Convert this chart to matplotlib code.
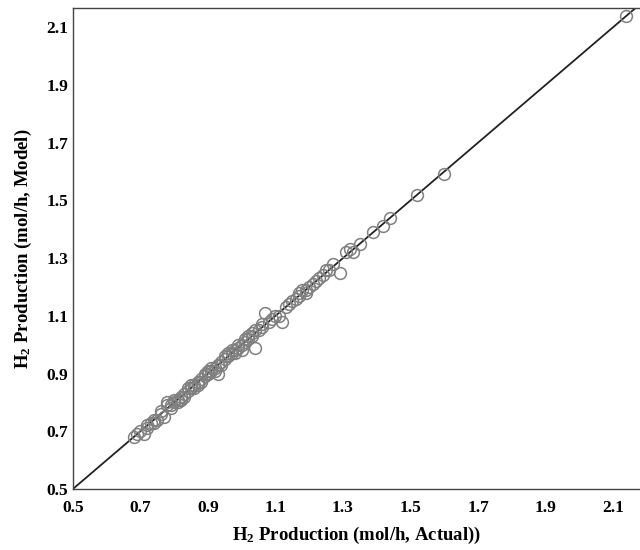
import matplotlib
matplotlib.use("Agg")
import matplotlib.pyplot as plt

actual = [0.68, 0.70, 0.71, 0.72, 0.73, 0.74, 0.75, 0.76, 0.77, 0.78, 0.79, 0.79, 0.80, 0.81,
          0.82, 0.82, 0.83, 0.84, 0.85, 0.85, 0.86, 0.87, 0.87, 0.88, 0.89, 0.90, 0.90, 0.91,
          0.92, 0.93, 0.93, 0.94, 0.95, 0.96, 0.97, 0.97, 0.98, 0.99, 1.00, 1.00, 1.01, 1.02,
          1.02, 1.03, 1.04, 1.05, 1.06, 1.07, 1.08, 1.10, 1.12, 1.13, 1.14, 1.16, 1.17, 1.18,
          1.19, 1.20, 1.21, 1.22, 1.23, 1.25, 1.26, 1.27, 1.29, 1.31, 1.33, 1.35, 1.39, 1.42,
          1.44, 1.52, 1.60, 2.14,
          0.69, 0.72, 0.74, 0.76, 0.78, 0.80, 0.81, 0.83, 0.84, 0.86, 0.88, 0.89, 0.91, 0.92,
          0.94, 0.95, 0.96, 0.98, 0.99, 1.01, 1.03, 1.04, 1.06, 1.09, 1.11, 1.15, 1.17, 1.19,
          1.24, 1.32]
model = [0.68, 0.70, 0.69, 0.72, 0.73, 0.74, 0.74, 0.76, 0.75, 0.80, 0.78, 0.79, 0.80, 0.81,
         0.82, 0.81, 0.83, 0.84, 0.85, 0.86, 0.86, 0.87, 0.86, 0.88, 0.89, 0.90, 0.91, 0.91,
         0.92, 0.90, 0.93, 0.94, 0.95, 0.96, 0.97, 0.98, 0.98, 0.99, 1.00, 0.98, 1.02, 1.02,
         1.03, 1.03, 0.99, 1.05, 1.06, 1.11, 1.08, 1.10, 1.08, 1.13, 1.14, 1.16, 1.17, 1.19,
         1.19, 1.20, 1.21, 1.22, 1.23, 1.26, 1.26, 1.28, 1.25, 1.32, 1.32, 1.35, 1.39, 1.41,
         1.44, 1.52, 1.59, 2.14,
         0.69, 0.71, 0.73, 0.77, 0.79, 0.81, 0.80, 0.82, 0.85, 0.85, 0.87, 0.90, 0.92, 0.91,
         0.93, 0.96, 0.97, 0.97, 1.00, 1.01, 1.04, 1.05, 1.07, 1.09, 1.10, 1.15, 1.18, 1.18,
         1.24, 1.33]
ticks = [0.5, 0.7, 0.9, 1.1, 1.3, 1.5, 1.7, 1.9, 2.1]

plt.rcParams['font.family'] = ['Liberation Serif', 'DejaVu Serif']
plt.rcParams['mathtext.fontset'] = 'custom'
plt.rcParams['mathtext.rm'] = 'Liberation Serif:bold'
plt.rcParams['mathtext.bf'] = 'Liberation Serif:bold'
plt.rcParams['mathtext.it'] = 'Liberation Serif:bold:italic'
fig = plt.figure(figsize=(6.4, 5.5), dpi=100)
ax = fig.add_axes([0.114, 0.111, 0.886, 0.874])
ax.plot([0.5, 2.3], [0.5, 2.3], color='#222222', lw=1.3, zorder=2)
ax.plot(actual, model, linestyle='none', marker='o', markersize=8.5, markerfacecolor='none',
        markeredgecolor='#808080', markeredgewidth=1.1, zorder=3)
ax.set_xlim(0.5, 2.18)
ax.set_ylim(0.5, 2.166)
ax.set_xticks(ticks)
ax.set_yticks(ticks)
ax.set_xticklabels([f"{t:.1f}" for t in ticks], fontweight='bold', fontsize=12.5)
ax.set_yticklabels([f"{t:.1f}" for t in ticks], fontweight='bold', fontsize=12.5)
ax.tick_params(axis='x', length=0, pad=8)
ax.tick_params(axis='y', length=0, pad=3.5)
for s in ['left', 'bottom', 'top']:
    ax.spines[s].set_color('#444444')
    ax.spines[s].set_linewidth(1.0)
ax.spines['right'].set_visible(False)
ax.set_xlabel(r"H$_\mathrm{2}$ Production (mol/h, Actual))", fontweight='bold', fontsize=13.5, labelpad=6)
ax.set_ylabel(r"H$_\mathrm{2}$ Production (mol/h, Model)", fontweight='bold', fontsize=13.5, labelpad=9)
fig.savefig("out.png", dpi=100)
